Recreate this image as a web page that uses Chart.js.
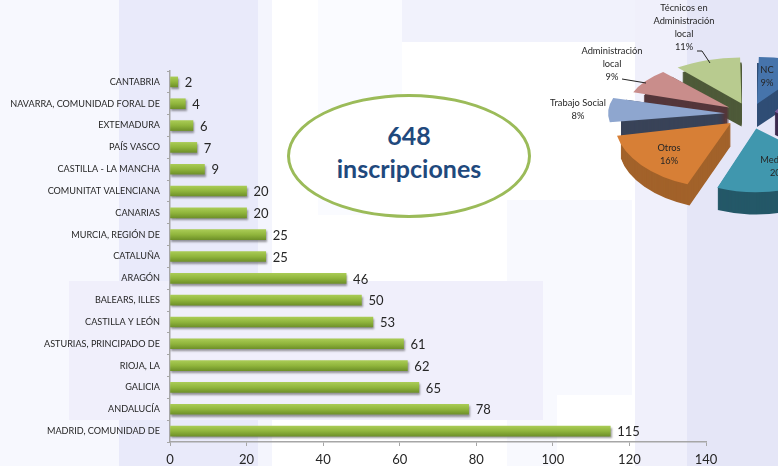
<!DOCTYPE html>
<html>
<head>
<meta charset="utf-8">
<script src="https://cdn.jsdelivr.net/npm/chart.js@4"></script>
<style>
html, body { margin: 0; padding: 0; background: #fff; }
#page { position: relative; width: 778px; height: 466px; overflow: hidden; background: #fff; }
.panel { position: absolute; }
canvas { position: absolute; }
#oval { position: absolute; left: 287px; top: 94px; width: 238px; height: 118px; border: 3px solid #9bbb59; border-radius: 50%; background: #fff;
  color: #1f497d; font: bold 25px Lato, sans-serif; text-align: center; line-height: 33px; display: flex; align-items: center; justify-content: center; }
#oval div { margin-top: -8px; }
</style>
</head>
<body>
<div id="page">
  <div class="panel" style="left:0;top:0;width:119px;height:466px;background:#f7f8fe"></div>
  <div class="panel" style="left:119px;top:0;width:139px;height:466px;background:#e9eafa"></div>
  <div class="panel" style="left:258px;top:0;width:14px;height:466px;background:#f4f5fd"></div>
  <div class="panel" style="left:318px;top:0;width:84px;height:215px;background:#fafbff"></div>
  <div class="panel" style="left:402px;top:0;width:235px;height:42px;background:#f1f2fc"></div>
  <div class="panel" style="left:507px;top:200px;width:125px;height:195px;background:#f8f9fe"></div>
  <div class="panel" style="left:507px;top:395px;width:50px;height:71px;background:#f8f9fe"></div>
  <div class="panel" style="left:69px;top:281px;width:474px;height:139px;background:#f0effb"></div>
  <div class="panel" style="left:635px;top:0;width:52px;height:466px;background:#f0f0fb"></div>
  <div class="panel" style="left:687px;top:0;width:91px;height:466px;background:#e5e6f7"></div>
  <canvas id="barChart" width="778" height="466" style="left:0;top:0"></canvas>
  <div id="oval"><div>648<br>inscripciones</div></div>
  <canvas id="pieChart" width="500" height="324" style="left:500px;top:-48px"></canvas>
</div>
<script>
Chart.defaults.animation = false;
Chart.defaults.responsive = false;
Chart.defaults.font.family = 'Lato, sans-serif';
Chart.defaults.color = '#262626';

const regiones = ['CANTABRIA', 'NAVARRA, COMUNIDAD FORAL DE', 'EXTEMADURA', 'PAÍS VASCO', 'CASTILLA - LA MANCHA',
    'COMUNITAT VALENCIANA', 'CANARIAS', 'MURCIA, REGIÓN DE', 'CATALUÑA', 'ARAGÓN', 'BALEARS, ILLES',
    'CASTILLA Y LEÓN', 'ASTURIAS, PRINCIPADO DE', 'RIOJA, LA', 'GALICIA', 'ANDALUCÍA', 'MADRID, COMUNIDAD DE'];
const inscripciones = [2, 4, 6, 7, 9, 20, 20, 25, 25, 46, 50, 53, 61, 62, 65, 78, 115];

// la ultima categoria de la tarta queda fuera de la imagen, su valor es lo que falta hasta 100
const perfiles = ['NC', '', 'Medicina', 'Otros', 'Trabajo Social', 'Administración local', 'Técnicos en Administración local'];
const porcentajes = [9, 27, 20, 16, 8, 9, 11];
const coloresTarta = ['#4674ab', '#7b5f9c', '#4097ae', '#d77f36', '#8ea6cf', '#c98d8b', '#b8cb8f'];
const coloresLado = ['#2f4d75', '#3d2b4e', '#245868', '#a2622a', '#394358', '#54363a', '#4e5a39'];
// perspectiva: las porciones del fondo salen mas cortas y mas aplastadas
const radiosTarta = [100, 112, 105, 112, 104, 90, 93];
const aplastado = [0.42, 0.6, 0.6, 0.57, 0.45, 0.46, 0.45];

// Etiquetas de valor al final de cada barra
const etiquetasBarras = {
    id: 'etiquetasBarras',
    afterDatasetsDraw(chart) {
        const ctx = chart.ctx;
        ctx.save();
        ctx.font = '13px Lato, sans-serif';
        ctx.fillStyle = '#262626';
        ctx.textBaseline = 'middle';
        chart.getDatasetMeta(0).data.forEach((bar, i) => {
            ctx.fillText(inscripciones[i], bar.x + 7, bar.y + 1);
        });
        ctx.restore();
    }
};

// Sombra de las barras
const sombraBarras = {
    id: 'sombraBarras',
    beforeDatasetsDraw(chart) {
        const ctx = chart.ctx;
        ctx.save();
        ctx.shadowColor = 'rgba(70,70,70,0.55)';
        ctx.shadowOffsetX = 1;
        ctx.shadowOffsetY = 2;
        ctx.shadowBlur = 2;
    },
    afterDatasetsDraw(chart) {
        chart.ctx.restore();
    }
};

new Chart(document.getElementById('barChart'), {
    type: 'bar',
    data: {
        labels: regiones,
        datasets: [{
            data: inscripciones,
            barThickness: 10,
            backgroundColor(c) {
                const y = c.chart.scales.y ? c.chart.scales.y.getPixelForValue(c.dataIndex) : NaN;
                if (!isFinite(y)) return '#90b53c';
                const g = c.chart.ctx.createLinearGradient(0, y - 5, 0, y + 5);
                g.addColorStop(0, '#a9cb55');
                g.addColorStop(0.5, '#90b53c');
                g.addColorStop(1, '#6f9129');
                return g;
            }
        }]
    },
    options: {
        indexAxis: 'y',
        layout: { padding: { top: 71, right: 72 } },
        plugins: { legend: { display: false }, tooltip: { enabled: false } },
        scales: {
            x: {
                min: 0,
                max: 140,
                afterFit(scale) { scale.height = 24; },
                grid: { drawOnChartArea: false, tickLength: 4, color: '#a6a6a6' },
                border: { color: '#a6a6a6', width: 1.5 },
                ticks: { stepSize: 20, maxRotation: 0, font: { size: 13 }, padding: 6 }
            },
            y: {
                afterFit(scale) { scale.width = 170; },
                grid: { drawOnChartArea: false, tickLength: 3, color: '#a6a6a6' },
                border: { color: '#a6a6a6', width: 1.5 },
                ticks: { autoSkip: false, font: { size: 9.1 }, padding: 7 }
            }
        }
    },
    plugins: [sombraBarras, etiquetasBarras]
});

const GROSOR = 23;
const DESPLAZADO = 100; // chart.js separa cada porcion offset/4

// Centro de cada texto de la tarta, en pixeles de la pagina
const textosTarta = [
    { lineas: ['Técnicos en', 'Administración', 'local', '11%'], x: 684, y: 8 },
    { lineas: ['Administración', 'local', '9%'], x: 612, y: 51 },
    { lineas: ['Trabajo Social', '8%'], x: 578, y: 103 },
    { lineas: ['Otros', '16%'], x: 669, y: 148 },
    { lineas: ['NC', '9%'], x: 767, y: 70 },
    { lineas: ['Medicina', '20%'], x: 779, y: 160 }
];

// Dibuja cada porcion con su propio aplastado, primero los laterales y luego las caras
const tarta3d = {
    id: 'tarta3d',
    beforeDatasetDraw(chart) {
        const ctx = chart.ctx;
        const arcs = chart.getDatasetMeta(0).data;
        const mitad = a => (a.startAngle + a.endAngle) / 2;
        const orden = arcs.map((a, i) => i).sort((a, b) => Math.sin(mitad(arcs[a])) - Math.sin(mitad(arcs[b])));
        const aplastar = (a, i) => {
            ctx.translate(a.x, a.y);
            ctx.scale(1, aplastado[i]);
            ctx.translate(-a.x, -a.y);
        };
        orden.forEach(i => {
            const a = arcs[i];
            a.outerRadius = radiosTarta[i];
            const dx = Math.cos(mitad(a)) * DESPLAZADO / 4;
            const dy = Math.sin(mitad(a)) * DESPLAZADO / 4;
            ctx.save();
            aplastar(a, i);
            ctx.fillStyle = coloresLado[i];
            for (let k = GROSOR; k > 0; k--) {
                const oy = k / aplastado[i];
                ctx.beginPath();
                ctx.moveTo(a.x + dx, a.y + dy + oy);
                ctx.arc(a.x + dx, a.y + dy + oy, a.outerRadius, a.startAngle, a.endAngle);
                ctx.closePath();
                ctx.fill();
            }
            ctx.restore();
        });
        orden.forEach(i => {
            ctx.save();
            aplastar(arcs[i], i);
            arcs[i].draw(ctx);
            ctx.restore();
        });
        return false;
    },
    afterDatasetsDraw(chart) {
        const ctx = chart.ctx;
        const left = 500, top = -48;
        ctx.save();
        ctx.translate(-left, -top);
        ctx.strokeStyle = '#222';
        ctx.lineWidth = 1;
        ctx.beginPath();
        ctx.moveTo(697, 51); ctx.lineTo(702, 51); ctx.lineTo(710, 63);
        ctx.moveTo(622, 79); ctx.lineTo(646, 83);
        ctx.stroke();
        ctx.font = '9.3px Lato, sans-serif';
        ctx.fillStyle = '#262626';
        ctx.textAlign = 'center';
        ctx.textBaseline = 'middle';
        textosTarta.forEach(t => {
            t.lineas.forEach((linea, n) => ctx.fillText(linea, t.x, t.y + n * 13));
        });
        ctx.restore();
    }
};

new Chart(document.getElementById('pieChart'), {
    type: 'pie',
    data: {
        labels: perfiles,
        datasets: [{
            data: porcentajes,
            backgroundColor: coloresTarta,
            borderWidth: 0,
            offset: DESPLAZADO
        }]
    },
    options: {
        plugins: { legend: { display: false }, tooltip: { enabled: false } }
    },
    plugins: [tarta3d]
});
</script>
</body>
</html>
